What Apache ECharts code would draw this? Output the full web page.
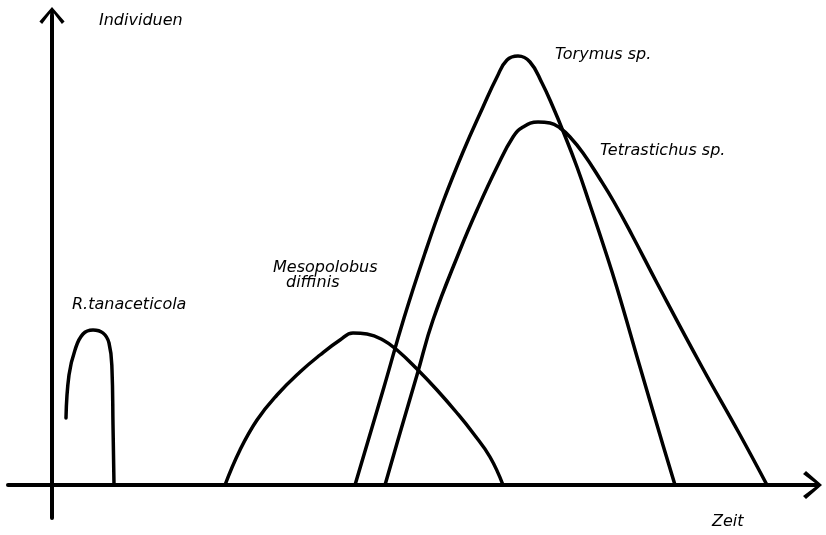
<!DOCTYPE html>
<html>
<head>
<meta charset="utf-8">
<script src="https://cdn.jsdelivr.net/npm/echarts@6/dist/echarts.min.js"></script>
<style>
html,body{margin:0;padding:0;background:#fff;}
#chart{width:826px;height:535px;}
</style>
</head>
<body>
<div id="chart"></div>
<script>
// Schematic values (time, individuals), arbitrary units
const rTanTime = [14, 17, 23, 31, 41, 51, 57, 60, 61, 62];
const rTanVal  = [67, 110, 135, 151, 155, 152, 142, 115, 60, 0];

const mesoTime = [173, 188, 205, 225, 248, 268, 288, 301, 315, 331, 345, 365, 385, 405, 421, 438, 451];
const mesoVal  = [0, 35, 65, 90, 113, 130, 145, 152, 151, 145, 135, 116, 95, 72, 52, 28, 0];

const toryTime = [303, 332, 352, 373, 391, 411, 431, 445, 455, 466, 478, 490, 501, 511, 525, 538, 553, 565, 588, 608, 623];
const toryVal  = [0, 98, 167, 232, 283, 333, 378, 408, 425, 429, 423, 402, 378, 354, 318, 280, 235, 197, 118, 50, 0];

const tetrTime = [333, 348, 365, 381, 408, 425, 445, 461, 471, 486, 498, 508, 518, 531, 548, 562, 580, 605, 650, 687, 715];
const tetrVal  = [0, 52, 110, 165, 235, 275, 318, 348, 358, 363, 362, 357, 348, 332, 306, 283, 250, 202, 118, 52, 0];

const seriesNames = ['R.tanaceticola', 'Mesopolobus diffinis', 'Torymus sp.', 'Tetrastichus sp.'];
const axisNames = ['Zeit', 'Individuen'];

function zip(a, b) { return a.map((v, i) => [v, b[i]]); }

const arrowPath = 'path://M14,0 L28,16 L25,19 L16,7 L16,20 L12,20 L12,7 L3,19 L0,16 Z';
const font = '"DejaVu Sans", sans-serif';

const chart = echarts.init(document.getElementById('chart'), null, {renderer: 'canvas'});

function curve(name, t, v) {
  return {
    name: name,
    type: 'line',
    data: zip(t, v),
    smooth: 0.45,
    showSymbol: false,
    symbol: 'none',
    lineStyle: {color: '#000', width: 3.5, cap: 'round', join: 'round'},
    z: 3
  };
}

const textStyle = {fill: '#000', font: 'italic 16px ' + font};
function label(text, left, top) {
  return {type: 'text', left: left, top: top, style: Object.assign({text: text}, textStyle)};
}

chart.setOption({
  animation: false,
  backgroundColor: '#fff',
  grid: {left: 8, right: 14, top: 16, bottom: 17, containLabel: false},
  xAxis: {
    type: 'value', min: -44, max: 760,
    axisLine: {show: true, onZero: true, symbol: ['none', arrowPath], symbolSize: [28, 20],
      lineStyle: {color: '#000', width: 4}},
    axisTick: {show: false}, axisLabel: {show: false}, splitLine: {show: false}
  },
  yAxis: {
    type: 'value', min: -33, max: 469,
    axisLine: {show: true, onZero: true, symbol: ['none', arrowPath], symbolSize: [28, 18],
      lineStyle: {color: '#000', width: 4}},
    axisTick: {show: false}, axisLabel: {show: false}, splitLine: {show: false}
  },
  series: [
    curve(seriesNames[0], rTanTime, rTanVal),
    curve(seriesNames[1], mesoTime, mesoVal),
    curve(seriesNames[2], toryTime, toryVal),
    curve(seriesNames[3], tetrTime, tetrVal)
  ],
  graphic: [
    label(axisNames[1], 99, 13),
    label(axisNames[0], 712, 514),
    label(seriesNames[0], 72, 297),
    label('Mesopolobus', 273, 260),
    label('diffinis', 286, 275),
    label(seriesNames[2], 555, 47),
    label(seriesNames[3], 600, 143)
  ]
});
</script>
</body>
</html>
